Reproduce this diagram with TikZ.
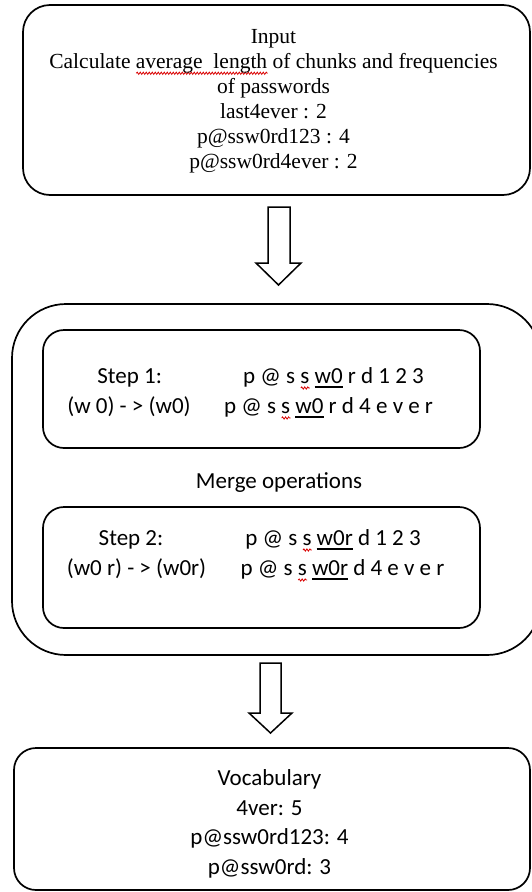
\documentclass[tikz,border=0pt]{standalone}
\usepackage{fontspec}
\setmainfont{Liberation Serif}
\newfontfamily\calibri{Carlito}
\usepackage{xcolor}
\usetikzlibrary{decorations.pathmorphing}
\newsavebox\wavebox
\newlength\wavelen
\newsavebox\ulbox
\newcommand\redwave[1]{\sbox\wavebox{#1}\setlength\wavelen{\wd\wavebox}\leavevmode\rlap{\raisebox{-5pt}{\tikz[x=1pt,y=1pt,baseline=0pt]\draw[red!85!black, line width=0.8pt, decorate, decoration={snake, amplitude=1.1pt, segment length=3pt}] (0,0) -- (\wavelen,0);}}\usebox\wavebox}
\newcommand\thickul[1]{\sbox\ulbox{#1}\leavevmode\rlap{\vrule width\wd\ulbox height -3.2pt depth 4.8pt}\usebox\ulbox}
\tikzset{
  box/.style={draw, line width=1.7pt, inner sep=0pt},
  serifline/.style={font=\fontsize{21.5}{25}\selectfont, align=center, inner sep=0pt},
  sansline/.style={font=\calibri\fontsize{23}{29.7}\selectfont, inner sep=0pt},
  blockarrow/.style={draw, line width=1.5pt, line join=miter, fill=white}
}
\begin{document}
\begin{tikzpicture}[x=1pt,y=-1pt]
\useasboundingbox (0,0) rectangle (532,892);
% top box
\node[box, rounded corners=27pt, minimum width=507pt, minimum height=190pt] (input) at (276.5,100) {};
\node[serifline] (inputtext) at (273.5,101) {Input\\Calculate \redwave{average\ \ length} of chunks and frequencies\\of passwords\\last4ever : 2\\p@ssw0rd123 : 4\\p@ssw0rd4ever : 2};
% arrow 1
\draw[blockarrow] (268,207) -- (290,207) -- (290,263) -- (301,263) -- (278.5,285) -- (256,263) -- (268,263) -- cycle;
% middle box
\node[box, rounded corners=54pt, minimum width=529pt, minimum height=351pt] (merge) at (276.5,479.5) {};
\node[box, rounded corners=21pt, minimum width=437pt, minimum height=118pt] (step1) at (261.5,389) {};
\node[box, rounded corners=21pt, minimum width=437pt, minimum height=121pt] (step2) at (261.5,567.5) {};
\node[sansline, anchor=base] (s1a) at (129.7,383) {Step 1:};
\node[sansline, anchor=base] (s1b) at (129,413) {(w 0) - > (w0)};
\node[sansline, anchor=base] (s1c) at (333.5,383) {p @ s \redwave{s} \thickul{w0} r d 1 2 3};
\node[sansline, anchor=base] (s1d) at (328.5,413) {p @ s \redwave{s} \thickul{w0} r d 4 e v e r};
\node[sansline, anchor=base] (mergetext) at (279,488) {Merge operations};
\node[sansline, anchor=base] (s2a) at (131,545) {Step 2:};
\node[sansline, anchor=base] (s2b) at (136.5,575) {(w0 r) - > (w0r)};
\node[sansline, anchor=base] (s2c) at (333,545) {p @ s \redwave{s} \thickul{w0r} d 1 2 3};
\node[sansline, anchor=base] (s2d) at (342.5,575) {p @ s \redwave{s} \thickul{w0r} d 4 e v e r};
% arrow 2
\draw[blockarrow] (260,663) -- (281,663) -- (281,713) -- (292,713) -- (270.5,733) -- (249,713) -- (260,713) -- cycle;
% bottom box
\node[box, rounded corners=22pt, minimum width=516pt, minimum height=142pt] (vocab) at (272,819) {};
\node[sansline, align=center] (vocabtext) at (269.5,824) {Vocabulary\\4ver: 5\\p@ssw0rd123: 4\\p@ssw0rd: 3};
\end{tikzpicture}
\end{document}
